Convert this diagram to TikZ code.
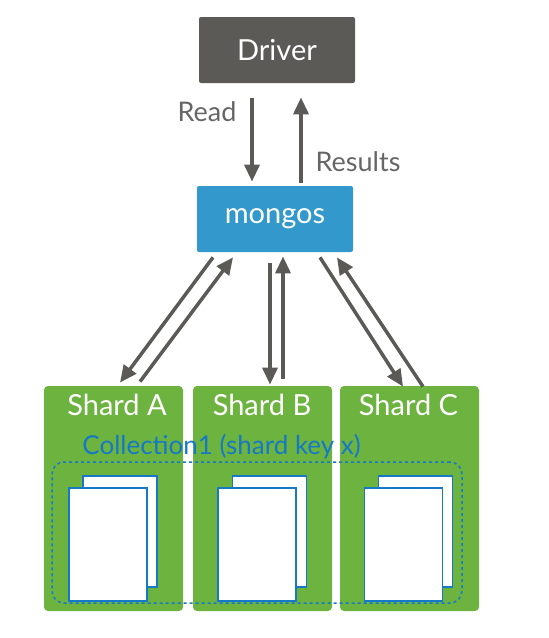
\documentclass[tikz,border=0pt]{standalone}
\usepackage{fontspec}
\setmainfont{Lato}
\usetikzlibrary{arrows.meta}
\definecolor{drivergray}{HTML}{5B5A56}
\definecolor{mongoblue}{HTML}{3399CC}
\definecolor{shardgreen}{HTML}{6DB33F}
\definecolor{collblue}{HTML}{1579C8}
\definecolor{textgray}{HTML}{666666}

\begin{document}
\begin{tikzpicture}[x=1pt, y=-1pt, thick,
    main/.style = {rounded corners=2pt, minimum width=156pt, minimum height=66pt, text=white, font=\fontsize{29}{32}\selectfont},
    shard/.style = {fill=shardgreen, rounded corners=4pt, minimum width=139pt, minimum height=225pt},
    shardname/.style = {text=white, font=\fontsize{29}{32}\selectfont},
    doc/.style = {draw=collblue, fill=white, line width=1.5pt, minimum width=74pt, minimum height=111pt, inner sep=0pt},
    flow/.style = {draw=drivergray, line width=3.5pt, -{Triangle[length=17pt, width=15pt]}},
    lbl/.style = {text=textgray, font=\fontsize{27}{30}\selectfont}]
\useasboundingbox (0,0) rectangle (549,638);
\node[main, fill=drivergray] (driver) at (277,50) {Driver};
\node[main, fill=mongoblue] (mongos) at (275,219) {mongos};
\node[shard] (shardA) at (113.5,498.5) {};
\node[shard] (shardB) at (262.5,498.5) {};
\node[shard] (shardC) at (409.5,498.5) {};
\node[shardname] (nameA) at (117,405) {Shard A};
\node[shardname] (nameB) at (262,405) {Shard B};
\node[shardname] (nameC) at (408.5,405) {Shard C};
\node[draw=collblue, dashed, line width=1.5pt, rounded corners=12pt, minimum width=410pt, minimum height=141pt] (coll) at (257,532.5) {};
\node[text=collblue, font=\fontsize{26}{30}\selectfont, anchor=west, inner sep=0pt] (collname) at (82,447) {Collection1 (shard key x)};
% documents
\node[doc] (backA) at (120,531.5) {};
\node[doc, minimum width=78pt, minimum height=113pt] (frontA) at (108,544.5) {};
\node[doc] (backB) at (269.5,531.5) {};
\node[doc, minimum width=78pt, minimum height=113pt] (frontB) at (257,544.5) {};
\node[doc] (backC) at (415.5,531.5) {};
\node[doc, minimum width=78pt, minimum height=113pt] (frontC) at (403.5,544.5) {};
% arrows
\draw[flow] ([xshift=-25pt,yshift=-15pt]driver.south) -- ([xshift=-23pt,yshift=4pt]mongos.north);
\draw[flow] ([xshift=26pt,yshift=3pt]mongos.north) -- ([xshift=24pt,yshift=-14pt]driver.south);
\node[lbl] (read) at (207,112) {Read};
\node[lbl] (results) at (358,162) {Results};
\draw[flow] ([xshift=-62pt,yshift=-5pt]mongos.south) -- ([xshift=6.5pt,yshift=3pt]shardA.north);
\draw[flow] ([xshift=26.5pt,yshift=4pt]shardA.north) -- ([xshift=-42pt,yshift=-5pt]mongos.south);
\draw[flow] ([xshift=-5pt,yshift=-11pt]mongos.south) -- ([xshift=7.5pt,yshift=1pt]shardB.north);
\draw[flow] ([xshift=20.5pt,yshift=7pt]shardB.north) -- ([xshift=8pt,yshift=-4pt]mongos.south);
\draw[flow] ([xshift=45pt,yshift=-5pt]mongos.south) -- ([xshift=-6.5pt,yshift=-1pt]shardC.north);
\draw[flow] ([xshift=13.5pt,yshift=-1pt]shardC.north) -- ([xshift=62pt,yshift=-5pt]mongos.south);
\end{tikzpicture}
\end{document}
